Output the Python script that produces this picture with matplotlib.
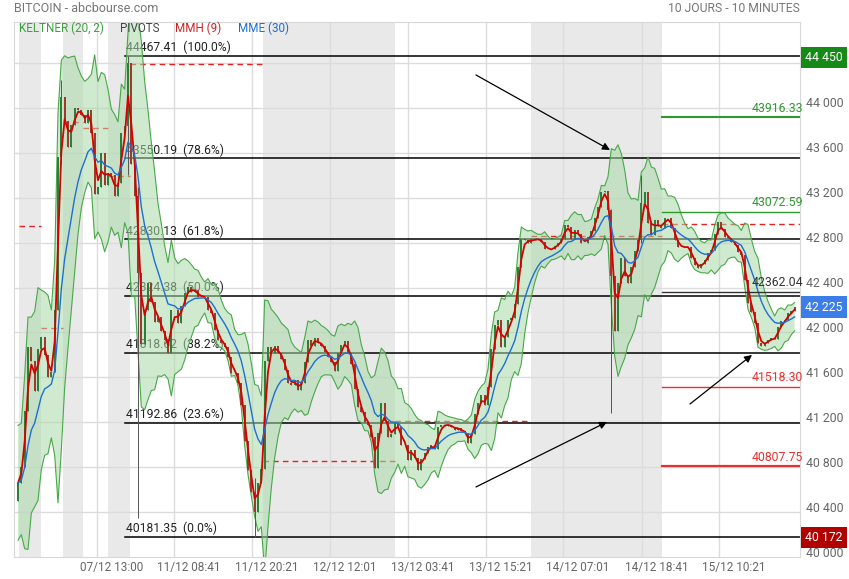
import numpy as np
import pandas as pd
import matplotlib.pyplot as plt
import matplotlib.transforms as mtransforms

plt.rcParams['font.family'] = ['Roboto', 'DejaVu Sans']

# closes, ~3 candles of 10 min per point
close = [40660, 40800, 41300, 41870, 41750, 41480, 41850, 41960, 41800, 41600,
         41650, 42200, 43560, 44100, 43880, 43650, 43850, 44000, 43980, 43940,
         43870, 43980, 43780, 43230, 43300, 43600, 43310, 43420, 43400, 43220,
         43330, 43780, 43840, 44400, 43500, 43220, 42530, 41900, 42200, 42440,
         42270, 42090, 42140, 42010, 41930, 41820, 42200, 42200, 42085, 42240,
         42350, 42405, 42360, 42380, 42316, 42316, 42316, 42200, 42170, 42025,
         41933, 41910, 41871, 41782, 41640, 41640, 41550, 41350, 41030, 40775,
         40580, 40400, 40660, 40780, 41750, 41871, 41820, 41880, 41817, 41765,
         41670, 41550, 41530, 41577, 41488, 41550, 41740, 41933, 41880, 41950,
         41907, 41880, 41830, 41780, 41740, 41655, 41817, 41890, 41920, 41817,
         41720, 41500, 41336, 41290, 41200, 41180, 41070, 40790, 41105, 41370,
         41210, 41069, 41100, 41190, 41158, 41000, 41000, 40864, 40950, 40880,
         40775, 40870, 40927, 40980, 41000, 40960, 41158, 41180, 41170, 41180,
         41160, 41135, 41150, 41120, 41105, 41016, 41100, 41270, 41372, 41440,
         41350, 41515, 41850, 42070, 42111, 41870, 41960, 42111, 42130, 42250,
         42584, 42830, 42820, 42800, 42830, 42830, 42830, 42810, 42740, 42740,
         42740, 42770, 42798, 42830, 42960, 42940, 42830, 42910, 42880, 42800,
         42800, 42850, 42900, 43020, 43118, 43250, 43260, 43090, 42500, 42010,
         42441, 42660, 42500, 42441, 42580, 42730, 42824, 43150, 43250, 42976,
         42870, 43002, 42950, 42935, 43020, 43020, 42930, 42824, 42762, 42760,
         42760, 42762, 42660, 42600, 42575, 42610, 42646, 42708, 42735, 42880,
         42985, 42920, 42855, 42842, 42810, 42780, 42717, 42690, 42470, 42263,
         42180, 42085, 41907, 41880, 41910, 41933, 41950, 41945, 42049, 42100,
         42110, 42174, 42190, 42225]
first_open = 40500

# long wicks
spike_idx = [13, 33, 36, 71, 178, 187]
spike_hi = [44250, 44467, 43300, 40700, 43100, 43400]
spike_lo = [43500, 43400, 40350, 40181, 41280, 42800]

# days (in candle index) and daily pivot
day_edges = [0.3, 6.9, 13.5, 19.5, 27, 33.6, 73.5, 113.1, 153.9, 193.2, 234.6]
day_pivot = [42949, 42040, 43875, 43822, 43394, 44392, 40855, 41212, 42860, 42967]
shaded_days = [0, 2, 4, 6, 8]

# fibonacci retracement
fib_levels = [44467.41, 43550.19, 42830.13, 42324.38, 41818.62, 41192.86, 40181.35]
fib_pct = ['100.0%', '78.6%', '61.8%', '50.0%', '38.2%', '23.6%', '0.0%']

# pivot levels of the last day
piv_vals = [43916.33, 43072.59, 42362.04, 41518.30, 40807.75]
piv_cols = ['#2e9a2e', '#2e9a2e', '#333333', '#e83030', '#e83030']
piv_lw = [1.5, 1.0, 1.0, 1.0, 1.6]

time_grid = [23.7, 46.8, 70.2, 93.6, 117, 140.4, 163.5, 187.2, 210.3]
time_labels = ['07/12 13:00', '11/12 08:41', '11/12 20:21', '12/12 12:01', '13/12 03:41',
               '13/12 15:21', '14/12 07:01', '14/12 18:41', '15/12 10:21']

period_high = 44450
period_low = 40172
last_price = 42225

c = np.array(close, dtype=float)
o = np.concatenate([[first_open], c[:-1]])
hi = np.maximum(o, c)
lo = np.minimum(o, c)
body = hi - lo
for i, h, l in zip(spike_idx, spike_hi, spike_lo):
    hi[i] = max(hi[i], h)
    lo[i] = min(lo[i], l)
x = np.arange(len(c))

s = pd.Series(c)
# Keltner(20, 2): each point here is ~3 candles, so spans are scaled
mid = s.ewm(span=7, adjust=False).mean()
atr = pd.Series(body).ewm(span=7, adjust=False).mean()
band_mult = 3.2
upper = mid + band_mult * atr
lower = mid - band_mult * atr
mme = s.ewm(span=10, adjust=False).mean()
w = np.array([1, 2, 3], dtype=float)
mmh = s.rolling(3, min_periods=1).apply(lambda v: np.dot(v, w[-len(v):]) / w[-len(v):].sum(), raw=True)

fig = plt.figure(figsize=(8.49, 5.79), dpi=100)
ax = fig.add_axes([14 / 849, 22 / 579, 786 / 849, 535 / 579])
ax.set_xlim(-1.2, 234.6)
ax.set_ylim(40000, 44766)
ax.set_xticks([])
ax.set_yticks([])
for sp in ax.spines.values():
    sp.set_color('#d8d8d8')

for d in shaded_days:
    ax.axvspan(day_edges[d], day_edges[d + 1], color='#e9e9e9', lw=0, zorder=0)
for yv in range(40400, 44401, 400):
    ax.axhline(yv, color='#dcdcdc', lw=1, zorder=0.5)
for xv in time_grid:
    ax.axvline(xv, color='#dcdcdc', lw=1, zorder=0.5)

# fibonacci lines
for lv, pc in zip(fib_levels, fib_pct):
    ax.plot([32.1, 234.6], [lv, lv], color='black', lw=1.1, zorder=1)
    ax.text(32.4, lv + 15, '%.2f  (%s)' % (lv, pc), fontsize=8.7, color='#222222',
            va='bottom', ha='left', zorder=1)

# daily pivots
for d, pv in enumerate(day_pivot):
    ax.plot([day_edges[d], day_edges[d + 1]], [pv, pv], color='#e82020', lw=1,
            ls=(0, (4, 3)), zorder=1.5)

# keltner band
ax.fill_between(x, lower, upper, color='#a9d9a9', alpha=0.55, lw=0, zorder=2)
ax.plot(x, upper, color='#48a848', lw=0.8, zorder=2.1)
ax.plot(x, lower, color='#48a848', lw=0.8, zorder=2.1)

# candles
up = c >= o
ax.vlines(x, lo, hi, color='#555555', lw=0.7, zorder=3)
ax.bar(x[up], c[up] - o[up], bottom=o[up], width=0.6, color='#2f7d3a', zorder=3.1)
ax.bar(x[~up], o[~up] - c[~up], bottom=c[~up], width=0.6, color='#9c3b2c', zorder=3.1)

ax.plot(x, mmh, color='#d60000', lw=1.3, zorder=4)
ax.plot(x, mme, color='#1f6fd1', lw=1.0, zorder=4)

# pivot levels for the last day
for pv, col, lw in zip(piv_vals, piv_cols, piv_lw):
    ax.plot([day_edges[-2], day_edges[-1]], [pv, pv], color=col, lw=lw, zorder=4.5)
    ax.text(235.5, pv + 25, '%.2f' % pv, color=col, fontsize=8.8, ha='right',
            va='bottom', zorder=5, clip_on=False)

# arrows
arr = dict(arrowstyle='-|>', color='black', lw=0.9, mutation_scale=11, shrinkA=0, shrinkB=0)
ax.annotate('', xy=(177.6, 43626), xytext=(137.4, 44294), arrowprops=arr, zorder=5)
ax.annotate('', xy=(176.7, 41203), xytext=(137.4, 40624), arrowprops=arr, zorder=5)
ax.annotate('', xy=(220.2, 41800), xytext=(201.6, 41363), arrowprops=arr, zorder=5)

# right price scale
tr_y = mtransforms.blended_transform_factory(ax.transAxes, ax.transData)
up4 = tr_y + mtransforms.ScaledTranslation(0, 0.04, fig.dpi_scale_trans)
for yv in range(40000, 44001, 400):
    ax.text(1 + 6 / 786, yv, '{:,}'.format(yv).replace(',', ' '), transform=up4,
            fontsize=8.8, color='#666666', ha='left', va='center', clip_on=False)
for val, bg in [(period_high, '#168a16'), (last_price, '#3b7ee8'), (period_low, '#b00000')]:
    ax.text(1 + 5 / 786, val, '{:,}'.format(val).replace(',', ' '), transform=tr_y,
            fontsize=8.8, color='white', ha='left', va='center', clip_on=False, zorder=6,
            bbox=dict(boxstyle='square,pad=0.35', fc=bg, ec='none'))

# time axis
tr_x = mtransforms.blended_transform_factory(ax.transData, ax.transAxes)
for xv, lab in zip(time_grid, time_labels):
    ax.text(xv + 4.5, -0.019, lab, transform=tr_x, fontsize=8.5, color='#666666',
            ha='center', va='center', clip_on=False)

fig.text(14 / 849, 1 - 9 / 579, 'BITCOIN - abcbourse.com', fontsize=9, color='#777777',
         ha='left', va='center')
fig.text(800 / 849, 1 - 9 / 579, '10 JOURS - 10 MINUTES', fontsize=8.7, color='#777777',
         ha='right', va='center')
leg_y = 1 - 28 / 579
for px, txt, col in [(19, 'KELTNER (20, 2)', '#3aa03a'), (120, 'PIVOTS', '#444444'),
                     (175, 'MMH (9)', '#cc2222'), (238, 'MME (30)', '#1a6fd0')]:
    fig.text(px / 849, leg_y, txt, fontsize=8.4, color=col, ha='left', va='center')

fig.savefig('out.png', dpi=100)
